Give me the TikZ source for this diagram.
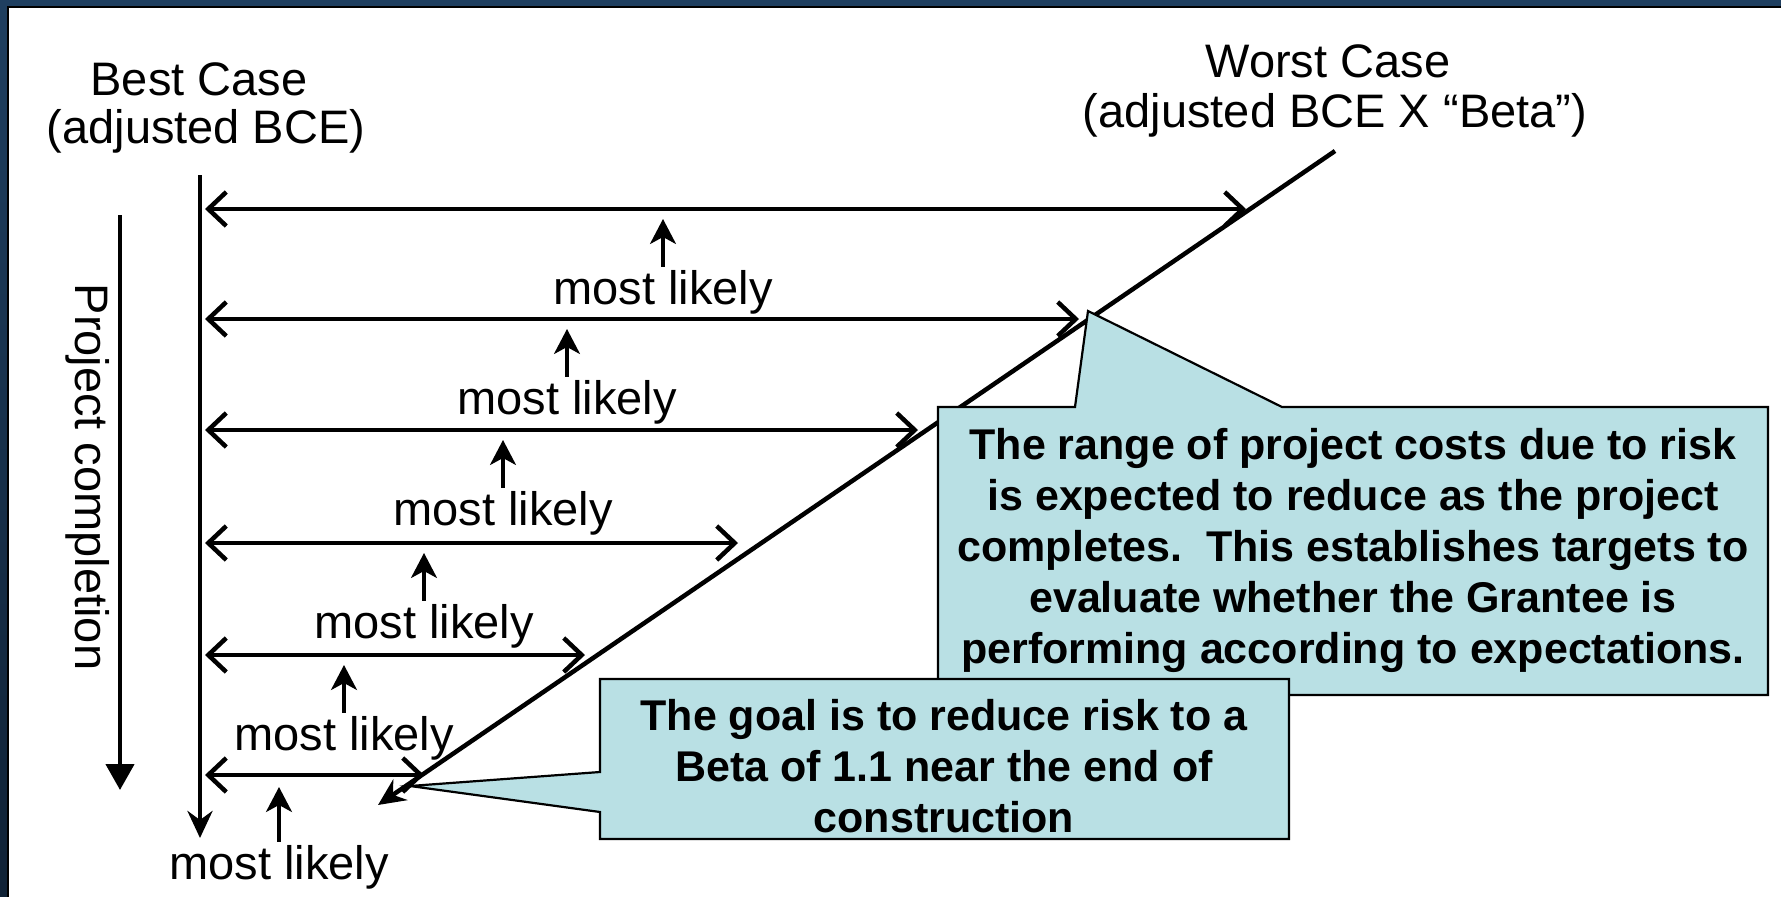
\documentclass[tikz,border=0pt]{standalone}
\usepackage{fontspec}
\setmainfont{Liberation Sans}
\usetikzlibrary{arrows.meta}
\definecolor{frameblue}{RGB}{31,63,96}
\definecolor{framedark}{RGB}{16,34,54}
\definecolor{callfill}{RGB}{185,224,228}
\begin{document}
\begin{tikzpicture}[x=1pt,y=-1pt,
  thick line/.style={line width=4.5pt},
  rangearrow/.style={line width=4.5pt,
    {Straight Barb[length=18pt,width=34pt]}-{Straight Barb[length=18pt,width=34pt]}},
  uparrow/.style={line width=3.2pt, shorten <=3pt, -{Stealth[length=25pt,width=26pt,inset=7pt]}},
  lbl/.style={font=\fontsize{47}{56}\selectfont, anchor=base, inner sep=0pt},
  callout/.style={fill=callfill, draw=black, line width=2.2pt, line join=miter},
  calltext/.style={font=\fontsize{43}{51}\selectfont\bfseries, align=center, inner sep=0pt}]
\useasboundingbox (0,0) rectangle (1781,897);
\fill[white] (0,0) rectangle (1781,897);
% frame
\fill[frameblue] (0,0) rectangle (1781,6);
\shade[top color=frameblue, bottom color=framedark] (0,0) rectangle (8,897);
\fill[black] (7,6) rectangle (1781,8);
\fill[black] (7,6) rectangle (9,897);

% titles
\node[lbl] (best) at (199,95) {Best Case};
\node[lbl] (bestsub) at (206,143) {(adjusted BCE)};
\node[lbl] (worst) at (1328,77) {Worst Case};
\node[lbl] (worstsub) at (1335,127) {(adjusted BCE X “Beta”)};

% project completion
\node[font=\fontsize{47}{56}\selectfont, inner sep=0pt, rotate=-90] (proj) at (88,477) {Project completion};
\coordinate (pcTop) at (120,215);
\coordinate (pcBot) at (120,790);
\draw[thick line, -{Triangle[length=26pt,width=28pt]}] (pcTop) -- (pcBot);

% best case vertical line
\coordinate (bcTop) at (200,175);
\coordinate (bcBot) at (200,838);
\draw[thick line, -{Stealth[length=27pt,width=25pt,inset=9pt]}] (bcTop) -- (bcBot);

% worst case diagonal
\coordinate (wcTop) at (1335,151);
\coordinate (wcBot) at (378,805);
\draw[thick line, -{Stealth[length=27pt,width=25pt,inset=9pt]}] (wcTop) -- (wcBot);

% range arrows
\coordinate (r1a) at (205,209); \coordinate (r1b) at (1246,209);
\coordinate (r2a) at (205,319); \coordinate (r2b) at (1079,319);
\coordinate (r3a) at (205,430); \coordinate (r3b) at (918,430);
\coordinate (r4a) at (205,543); \coordinate (r4b) at (738,543);
\coordinate (r5a) at (205,655); \coordinate (r5b) at (585,655);
\coordinate (r6a) at (205,775); \coordinate (r6b) at (424,775);
\foreach \i in {1,...,6} {\draw[rangearrow] (r\i a) -- (r\i b);}

% most likely labels and pointers
\node[lbl] (m1) at (663,304) {most likely};
\node[lbl] (m2) at (567,414) {most likely};
\node[lbl] (m3) at (503,525) {most likely};
\node[lbl] (m4) at (424,638) {most likely};
\node[lbl] (m5) at (344,750) {most likely};
\node[lbl] (m6) at (279,879) {most likely};
\coordinate (u1) at (663,219);
\coordinate (u2) at (567,329);
\coordinate (u3) at (503,440);
\coordinate (u4) at (424,553);
\coordinate (u5) at (344,665);
\coordinate (u6) at (279,787);
\foreach \i in {1,...,6} {\draw[uparrow] (m\i) -- (u\i);}

% big callout
\draw[callout] (938,407) -- (1075,407) -- (1088,311) -- (1282,407) -- (1768,407)
  -- (1768,695) -- (938,695) -- cycle;
\node[calltext] (bigtext) at (1353,550) {The range of project costs due to risk\\
is expected to reduce as the project\\
completes.~~This establishes targets to\\
evaluate whether the Grantee is\\
performing according to expectations.};

% lower callout
\draw[callout] (600,679) -- (1289,679) -- (1289,839) -- (600,839) -- (600,812)
  -- (410,786) -- (600,772) -- cycle;
\node[calltext] (goaltext) at (944,766) {The goal is to reduce risk to a\\
Beta of 1.1 near the end of\\
construction};
\end{tikzpicture}
\end{document}
